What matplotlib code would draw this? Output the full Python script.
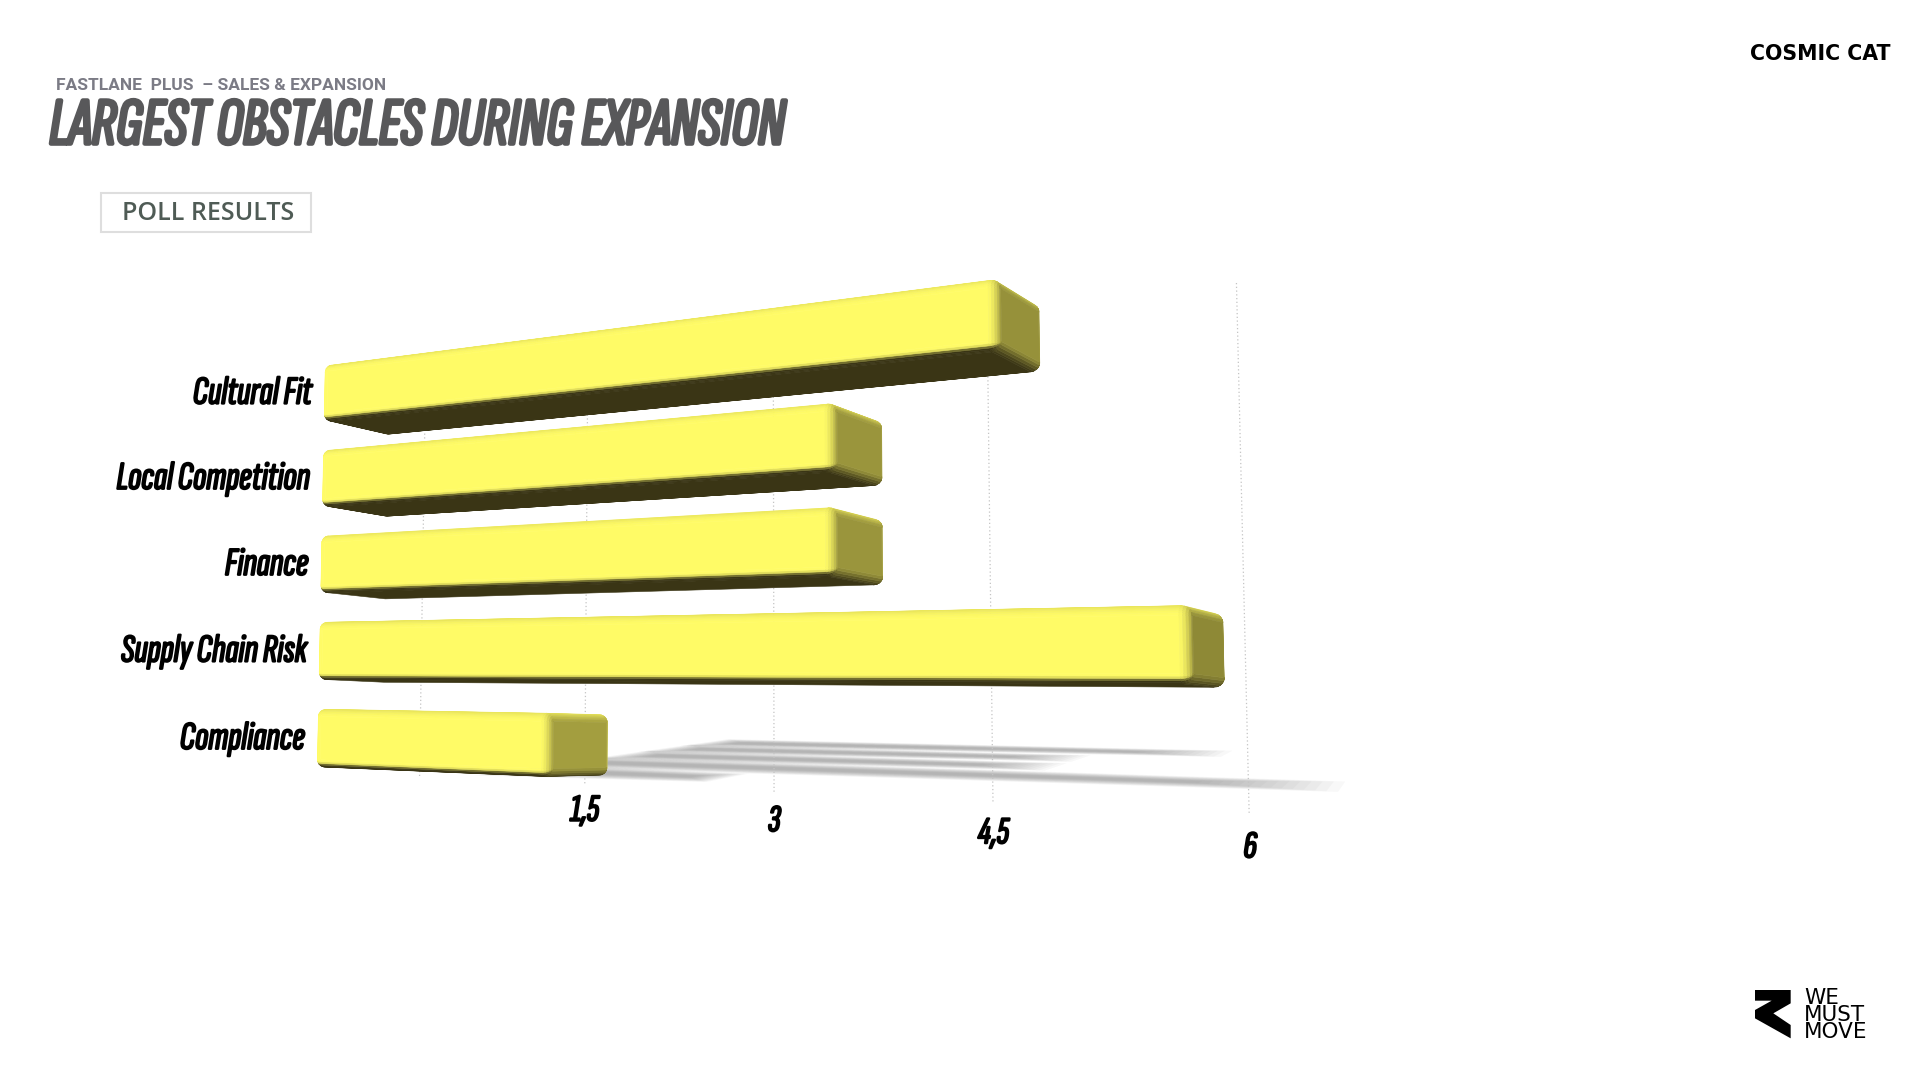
import numpy as np
import matplotlib
matplotlib.use('Agg')
import matplotlib.pyplot as plt
import matplotlib.patheffects as pe
from matplotlib.collections import PolyCollection
from matplotlib.colors import to_rgb

# ---- data ----
categories = ['Compliance', 'Supply Chain Risk', 'Finance', 'Local Competition', 'Cultural Fit']
values = [2, 6, 4, 4, 5]
tick_values = [0, 1.5, 3, 4.5, 6]
tick_labels = ['', '1,5', '3', '4,5', '6']

# ---- scene scales: pinhole camera (value, row, depth) -> pixels, and floor plane (value, row) -> pixels ----
CAMERA = np.array([[92.0076, 3.04675, 85.56351, 314.77344],
                   [-30.43528, -84.70627, 36.41617, 737.99189],
                   [-0.04558, 0.00413, 0.04886, 1.0]])
FLOOR = np.array([[71.64972, 92.84401, 514.01669],
                  [-33.80763, 40.86988, 769.74054],
                  [-0.04858, 0.06419, 1.0]])
HALF = 0.33
GRID_Z = 1.62
GRID_R = (-0.46, 4.5)
TICK_R = -0.78
YELLOW = np.array(to_rgb('#FFFB66'))
TOPCOL = np.array(to_rgb('#E9E55A'))
DARK = np.array(to_rgb('#3A3515'))
CAPS = ['#A39E3F', '#8E8936', '#9A953C', '#9A953C', '#96913A']


def project(v, r, z):
    q = CAMERA @ np.array([v, r, z, 1.0])
    return q[:2] / q[2]


def floor(v, r):
    q = FLOOR @ np.array([v, r, 1.0])
    return q[:2] / q[2]


def signed_area(p):
    x, y = np.array(p).T
    return 0.5 * np.sum(x * np.roll(y, -1) - np.roll(x, -1) * y)


def section(row, s, rr=0.085, rz=0.07, n=7):
    """Rounded ring of a bar: s=0 the full outline, s=1 the inner rectangle."""
    pts, nrm = [], []
    for q in range(4):
        for a in np.linspace(q * 90, (q + 1) * 90, n):
            dr, dz = np.cos(np.radians(a)), np.sin(np.radians(a))
            mid = np.radians(q * 90 + 45)
            cr = row + np.sign(np.cos(mid)) * (HALF - rr)
            cz = 0.5 + np.sign(np.sin(mid)) * (0.5 - rz)
            pts.append((cr + dr * rr * (1 - s), cz + dz * rz * (1 - s)))
            nrm.append((dr, dz))
    return np.array(pts), np.array(nrm)


def shade(nr, nz):
    if nr < 0:
        t = np.clip((-nr - 0.25) / 0.55, 0, 1)
        t = t * t * (3 - 2 * t)
        return YELLOW + (DARK - YELLOW) * t
    t = np.clip(nr, 0, 1) ** 2
    return YELLOW + (TOPCOL - YELLOW) * t


def orientation():
    p, n = section(2, 0)
    j = int(np.argmin(n[:, 1]))
    i2 = (j + 1) % len(p)
    quad = [project(1, *p[j]), project(1, *p[i2]), project(2, *p[i2]), project(2, *p[j])]
    return 1.0 if signed_area(quad) > 0 else -1.0


ORIENT = orientation()


def bar_polys(row, value, cap):
    cap = np.array(to_rgb(cap))
    delta = 0.055
    angles = np.radians(np.linspace(0, 90, 6))
    rings = [(delta * (1 - np.sin(a)), 1 - np.cos(a)) for a in angles[::-1]]
    rings += [(value - delta * (1 - np.sin(a)), 1 - np.cos(a)) for a in angles]
    polys, cols = [], []
    for k in range(len(rings) - 1):
        v0, s0 = rings[k]
        v1, s1 = rings[k + 1]
        p0, n0 = section(row, s0)
        p1, _ = section(row, s1)
        m = len(p0)
        for j in range(m):
            i2 = (j + 1) % m
            quad = [project(v0, *p0[j]), project(v0, *p0[i2]),
                    project(v1, *p1[i2]), project(v1, *p1[j])]
            if signed_area(quad) * ORIENT <= 1e-6:
                continue
            c = shade(*((n0[j] + n0[i2]) / 2))
            if v0 > value / 2:
                c = c + (cap - c) * (0.5 * (s0 + s1)) ** 0.8
            polys.append(quad)
            cols.append(np.clip(c, 0, 1))
    p, _ = section(row, 1)
    polys.append([project(value, *q) for q in p])
    cols.append(cap)
    return polys, cols


fig = plt.figure(figsize=(19.2, 10.8), dpi=100, facecolor='white')
ax = fig.add_axes([0, 0, 1, 1])
ax.set_xlim(0, 1920)
ax.set_ylim(1080, 0)
ax.axis('off')

# floor shadows
for row, val in enumerate(values):
    for k in range(14):
        f = k / 13
        w = 0.5 * (1 - f) + 0.14
        end = val * (1 - 0.14 * f)
        st = 0.35 * f
        poly = [floor(st, row - w), floor(end, row - w * .65),
                floor(end, row + w * .65), floor(st, row + w)]
        ax.fill(*np.array(poly).T, color='#7a7a7a', alpha=0.05, lw=0, zorder=1)

# gridlines
for v in tick_values:
    a, b = project(v, GRID_R[0], GRID_Z), project(v, GRID_R[1], GRID_Z)
    ax.plot([a[0], b[0]], [a[1], b[1]], color='#c4c4c4', lw=0.9, ls=(0, (1, 2)), zorder=2)

# bars
for i, (val, cap) in enumerate(zip(values[::-1], CAPS[::-1])):
    row = len(values) - 1 - i
    polys, cols = bar_polys(row, val, cap)
    ax.add_collection(PolyCollection(polys, facecolors=cols, edgecolors=cols, linewidths=0.4,
                                     zorder=3 + i))

LABELFONT = dict(family='Sofia Sans Extra Condensed', style='italic', color='black',
                 path_effects=[pe.withStroke(linewidth=1.4, foreground='black')])
for row, name in enumerate(categories):
    x, y = project(0, row, 0)
    ax.text(x - 10, y + 1, name, ha='right', va='center', fontsize=28.5, **LABELFONT)
for v, lab in zip(tick_values, tick_labels):
    if lab:
        x, y = project(v, TICK_R, GRID_Z)
        ax.text(x, y, lab, ha='center', va='center', fontsize=27.5, **LABELFONT)

# header texts
ax.text(56, 85, 'FASTLANE  PLUS  – SALES & EXPANSION', fontsize=12.5, family='Roboto', weight='bold',
        color='#7b7b85', va='center', ha='left')
ax.text(49, 127, 'LARGEST OBSTACLES DURING EXPANSION', fontsize=48.3, family='Sofia Sans Extra Condensed',
        style='italic', color='#58585a', va='center', ha='left',
        path_effects=[pe.withStroke(linewidth=2.6, foreground='#58585a')])
ax.add_patch(plt.Rectangle((101, 193), 210, 39, fc='white', ec='#dedede', lw=1.5))
ax.text(122, 214, 'POLL RESULTS', fontsize=18, family='Open Sans', weight='semibold', color='#4f5b55',
        va='center', ha='left')

# corner marks
ax.text(1750, 54, 'COSMIC CAT', fontsize=14.8, family='DejaVu Sans', weight='bold', color='black',
        va='center', ha='left')
mark_x = np.array([75, 182, 182, 130, 182, 182, 75, 75, 125, 75]) / 3 + 1730
mark_y = np.array([60, 60, 100, 130, 165, 205, 145, 120, 92, 92]) / 3 + 970
ax.fill(mark_x, mark_y, color='black', lw=0)
for y, word in zip([998, 1015, 1032], ['WE', 'MUST', 'MOVE']):
    ax.text(1804, y, word, fontsize=15.5, family='DejaVu Sans', color='black', va='center', ha='left')

fig.savefig('out.png', dpi=100)
